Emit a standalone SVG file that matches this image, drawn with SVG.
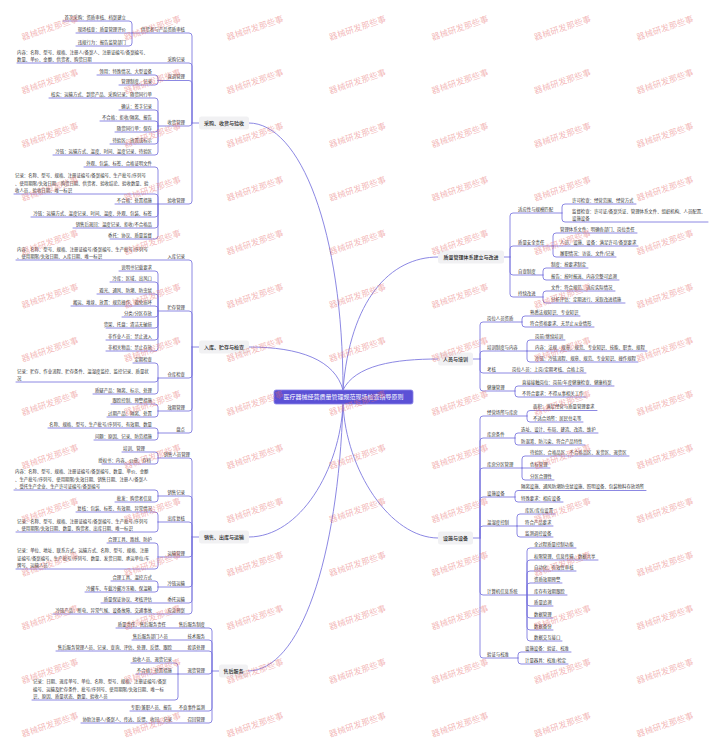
<svg xmlns="http://www.w3.org/2000/svg" xmlns:xlink="http://www.w3.org/1999/xlink" width="720" height="738" viewBox="0 0 720 738">
<style>
.t{font-family:"Noto Sans CJK SC","Noto Sans",sans-serif;font-size:4.4px;fill:#333}
.e{text-anchor:end}
.h{font-family:"Noto Sans CJK SC","Noto Sans",sans-serif;font-size:5px;fill:#222;text-anchor:middle;font-weight:500}
.c{font-family:"Noto Sans CJK SC","Noto Sans",sans-serif;font-size:6px;fill:#fff;text-anchor:middle}
.b{fill:#f1f1f3}
.l{fill:none;stroke:#7f7ae0;stroke-width:.9;stroke-linecap:round}
.w{font-family:"Noto Sans CJK SC","Noto Sans",sans-serif;font-size:8.5px;fill:#e66a6a;fill-opacity:.48;text-anchor:middle}
</style>
<defs>
<text id="wm" class="w" x="0" y="3" transform="rotate(-19)">器械研发那些事</text>
</defs>
<rect width="720" height="738" fill="#fff"/>
<g id="connectors">
<path class="l" d="M343 390C343 230 300 123 249 123M343 390C335 360 300 347 249 347M343 390C350 300 390 257 438 257M343 390C355 365 395 359 438 359M343 404C340 470 300 537 249 537M343 404C338 560 300 671 248 671M343 404C346 470 390 538 438 538"/>
<path class="l" d="M199 123H192M192 123V36Q192 33 189 33H132M192 123V66Q192 63 189 63H17M192 123V83.5Q192 80.5 189 80.5H158M192 123Q192 126 189 126H158M192 123V201Q192 204 189 204H158"/>
<path class="l" d="M132 33V24Q132 21 129 21H63M132 33H76M132 33V43Q132 46 129 46H76"/>
<path class="l" d="M158 80.5V78Q158 75 155 75H97M158 80.5V82Q158 85 155 85H119"/>
<path class="l" d="M158 126V101Q158 98 155 98H49M158 126V113Q158 110 155 110H119M158 126V124Q158 121 155 121H100M158 126V129Q158 132 155 132H115M158 126V141Q158 144 155 144H110M158 126V152Q158 155 155 155H53"/>
<path class="l" d="M158 204V170Q158 167 155 167H84M158 204V197Q158 194 155 194H14M158 204H115M158 204V214Q158 217 155 217H31M158 204V225Q158 228 155 228H73M158 204V236Q158 239 155 239H110"/>
<path class="l" d="M199 347H192M192 347V263Q192 260 189 260H16M192 347V314Q192 311 189 311H158M192 347V375Q192 378 189 378H158M192 347V408Q192 411 189 411H158M192 347V430Q192 433 189 433H158"/>
<path class="l" d="M158 311V274Q158 271 155 271H119M158 311V285Q158 282 155 282H110M158 311V297Q158 294 155 294H97M158 311V309Q158 306 155 306H71M158 311V314Q158 317 155 317H122M158 311V325Q158 328 155 328H106M158 311V337Q158 340 155 340H106M158 311V348Q158 351 155 351H106"/>
<path class="l" d="M158 378V366Q158 363 155 363H133M158 378V379Q158 382 155 382H16M158 378V391Q158 394 155 394H93"/>
<path class="l" d="M158 411V407Q158 404 155 404H111M158 411V414Q158 417 155 417H107M158 433V431Q158 428 155 428H48M158 433V437Q158 440 155 440H94"/>
<path class="l" d="M199 537H192M192 537V461Q192 458 189 458H158M192 537V499Q192 496 189 496H158M192 537V525Q192 522 189 522H158M192 537V554Q192 557 189 557H158M192 537V584Q192 587 189 587H158M192 537V600Q192 603 189 603H101M192 537V611Q192 614 189 614H53"/>
<path class="l" d="M158 458V455Q158 452 155 452H122M158 458V461Q158 464 155 464H102M158 496V493Q158 490 155 490H14M158 496V499Q158 502 155 502H115M158 522V515Q158 512 155 512H76M158 522V529Q158 532 155 532H16M158 557V546Q158 543 155 543H107M158 557V566Q158 569 155 569H16M158 587V584Q158 581 155 581H111M158 587V589Q158 592 155 592H85"/>
<path class="l" d="M219 671H212M212 671V631Q212 628 209 628H116M212 671V643Q212 640 209 640H132M212 671V654Q212 651 209 651H56M212 671Q212 674 209 674H178M212 671V708Q212 711 209 711H130M212 671V720Q212 723 209 723H81"/>
<path class="l" d="M178 674V666Q178 663 175 663H131M178 674H136M178 674V697Q178 700 175 700H32"/>
<path class="l" d="M504 257H510M510 257V216Q510 213 513 213H562M510 257V249Q510 246 513 246H553M510 257V272Q510 275 513 275H543M510 257V294Q510 297 513 297H543"/>
<path class="l" d="M562 213V207Q562 204 565 204H636M562 213V219Q562 222 565 222H708M553 246V236Q553 233 556 233H637M553 246H638M553 246V254Q553 257 556 257H616M543 275V271Q543 268 546 268H588M543 275V277Q543 280 546 280H619M543 297V294Q543 291 546 291H615M543 297V300Q543 303 546 303H625"/>
<path class="l" d="M473 359H480M480 359V325Q480 322 483 322H522M480 359V354Q480 351 483 351H527M480 359V370Q480 373 483 373H586M480 359V388Q480 391 483 391H515"/>
<path class="l" d="M522 322V319Q522 316 525 316H580M522 322V324Q522 327 525 327H594M527 351V343Q527 340 530 340H565M527 351H647M527 351V359Q527 362 530 362H638M515 391V389Q515 386 518 386H614M515 391V394Q515 397 518 397H586"/>
<path class="l" d="M473 538H480M480 538V419Q480 416 483 416H527M480 538V441Q480 438 483 438H515M480 538V471Q480 468 483 468H522M480 538V500Q480 497 483 497H515M480 538V529Q480 526 483 526H517M480 538V592Q480 595 483 595H527M480 538V655Q480 658 483 658H518"/>
<path class="l" d="M527 416V413.5Q527 410.5 530 410.5H597M527 416V419Q527 422 530 422H583M515 438V436Q515 433 518 433H598M515 438V442Q515 445 518 445H585M522 468V459Q522 456 525 456H629M522 468H550M522 468V477Q522 480 525 480H554M515 497V493.5Q515 490.5 518 490.5H646M515 497V499Q515 502 518 502H563M517 526V517Q517 514 520 514H555M517 526H553M517 526V534Q517 537 520 537H553"/>
<path class="l" d="M527 595V551Q527 548 530 548H576M527 595V563Q527 560 530 560H598M527 595V574Q527 571 530 571H576M527 595V586Q527 583 530 583H562M527 595H567M527 595V603Q527 606 530 606H553M527 595V615Q527 618 530 618H553M527 595V627Q527 630 530 630H553M527 595V638Q527 641 530 641H562M518 658V655Q518 652 521 652H571M518 658V661Q518 664 521 664H568"/>
</g>
<g id="root"><rect x="274" y="390" width="139" height="14" rx="2" fill="#5b51d6" stroke="#8a84e8" stroke-width=".8"/><text class="c" x="343.5" y="399.3">医疗器械经营质量管理规范现场检查指导原则</text></g>
<g id="b1"><rect class="b" x="199" y="116.5" width="50" height="13" rx="2.5"/><text class="h" x="224" y="124.8">采购、收货与验收</text></g>
<g id="b2"><rect class="b" x="199" y="340.5" width="50" height="13" rx="2.5"/><text class="h" x="224" y="348.8">入库、贮存与检查</text></g>
<g id="b3"><rect class="b" x="199" y="530.5" width="50" height="13" rx="2.5"/><text class="h" x="224" y="538.8">销售、出库与运输</text></g>
<g id="b4"><rect class="b" x="219" y="664.5" width="29" height="13" rx="2.5"/><text class="h" x="233.5" y="672.8">售后服务</text></g>
<g id="b5"><rect class="b" x="438" y="250.5" width="66" height="13" rx="2.5"/><text class="h" x="471" y="258.8">质量管理体系建立与改进</text></g>
<g id="b6"><rect class="b" x="438" y="352.5" width="35" height="13" rx="2.5"/><text class="h" x="455.5" y="360.8">人员与培训</text></g>
<g id="b7"><rect class="b" x="438" y="531.5" width="35" height="13" rx="2.5"/><text class="h" x="455.5" y="539.8">设施与设备</text></g>
<g id="b1-nodes">
<g id="n1a"><text class="t e" x="185" y="30.8">供货者与产品资质审核</text></g>
<g id="n1a1"><text class="t e" x="126" y="18.8">首次采购：资质审核、档案建立</text></g>
<g id="n1a2"><text class="t e" x="126" y="30.8">现场核查：质量管理评价</text></g>
<g id="n1a3"><text class="t e" x="126" y="43.8">违规行为：报告监管部门</text></g>
<g id="n1b"><text class="t e" x="185" y="60.8">采购记录</text></g>
<g id="n1b1"><text class="t" x="17" y="53.6">内容：名称、型号、规格、注册人/备案人、注册证编号/备案编号、<tspan x="17" dy="7.2">数量、单价、金额、供货者、购货日期</tspan></text></g>
<g id="n1c"><text class="t e" x="185" y="78.3">直调管理</text></g>
<g id="n1c1"><text class="t e" x="152" y="72.8">领用：特殊情况、大型设备</text></g>
<g id="n1c2"><text class="t e" x="152" y="82.8">管理制度、记录</text></g>
<g id="n1d"><text class="t e" x="185" y="123.8">收货管理</text></g>
<g id="n1d1"><text class="t e" x="152" y="95.8">核实：运输方式、到货产品、采购记录、随货同行单</text></g>
<g id="n1d2"><text class="t e" x="152" y="107.8">确认：签字记录</text></g>
<g id="n1d3"><text class="t e" x="152" y="118.8">不合格：拒收/隔离、报告</text></g>
<g id="n1d4"><text class="t e" x="152" y="129.8">随货同行单：保存</text></g>
<g id="n1d5"><text class="t e" x="152" y="141.8">待验区：放置或标示</text></g>
<g id="n1d6"><text class="t e" x="152" y="152.8">冷链：运输方式、温度、时间、温度记录、待验区</text></g>
<g id="n1e"><text class="t e" x="185" y="201.8">验收管理</text></g>
<g id="n1e1"><text class="t e" x="152" y="164.8">外观、包装、标签、合格证明文件</text></g>
<g id="n1e2"><text class="t" x="15" y="177.4">记录：名称、型号、规格、注册证编号/备案编号、生产批号/序列号<tspan x="15" dy="7.2">、使用期限/失效日期、购货日期、供货者、验收结论、验收数量、验</tspan><tspan x="15" dy="7.2">收人员、验收日期、唯一标识</tspan></text></g>
<g id="n1e3"><text class="t e" x="152" y="201.8">不合格：处置措施</text></g>
<g id="n1e4"><text class="t e" x="152" y="214.8">冷链：运输方式、温度记录、时间、温度、外观、包装、标签</text></g>
<g id="n1e5"><text class="t e" x="152" y="225.8">销售后退回：温度记录、拒收/不合格品</text></g>
<g id="n1e6"><text class="t e" x="152" y="236.8">委托：协议、质量监督</text></g>
</g>
<g id="b2-nodes">
<g id="n2a"><text class="t e" x="185" y="257.8">入库记录</text></g>
<g id="n2a1"><text class="t" x="17" y="250.6">内容：名称、型号、规格、注册证编号/备案编号、生产批号/序列号<tspan x="17" dy="7.2">、使用期限/失效日期、入库日期、唯一标识</tspan></text></g>
<g id="n2b"><text class="t e" x="185" y="308.8">贮存管理</text></g>
<g id="n2b1"><text class="t e" x="152" y="268.8">说明书记载要求</text></g>
<g id="n2b2"><text class="t e" x="152" y="279.8">冷库：区域、出风口</text></g>
<g id="n2b3"><text class="t e" x="152" y="291.8">避光、通风、防潮、防虫鼠</text></g>
<g id="n2b4"><text class="t e" x="152" y="303.8">搬运、堆垛、放置：规范操作、避免损坏</text></g>
<g id="n2b5"><text class="t e" x="152" y="314.8">分类/分区存放</text></g>
<g id="n2b6"><text class="t e" x="152" y="325.8">货架、托盘：清洁无破损</text></g>
<g id="n2b7"><text class="t e" x="152" y="337.8">非作业人员：禁止进入</text></g>
<g id="n2b8"><text class="t e" x="152" y="348.8">非相关物品：禁止存放</text></g>
<g id="n2c"><text class="t e" x="185" y="375.8">仓库检查</text></g>
<g id="n2c1"><text class="t e" x="152" y="360.8">定期检查</text></g>
<g id="n2c2"><text class="t" x="17" y="372.6">记录：贮存、作业流程、贮存条件、温湿度监控、监控记录、质量状<tspan x="17" dy="7.2">况</tspan></text></g>
<g id="n2c3"><text class="t e" x="152" y="391.8">质疑产品：隔离、标示、处理</text></g>
<g id="n2d"><text class="t e" x="185" y="408.8">效期管理</text></g>
<g id="n2d1"><text class="t e" x="152" y="401.8">跟踪控制、预警措施</text></g>
<g id="n2d2"><text class="t e" x="152" y="414.8">过期产品：隔离、处置</text></g>
<g id="n2e"><text class="t e" x="185" y="430.8">盘点</text></g>
<g id="n2e1"><text class="t e" x="152" y="425.8">名称、规格、型号、生产批号/序列号、有效期、数量</text></g>
<g id="n2e2"><text class="t e" x="152" y="437.8">问题：原因、记录、防范措施</text></g>
</g>
<g id="b3-nodes">
<g id="n3a"><text class="t e" x="190" y="455.8">销售人员管理</text></g>
<g id="n3a1"><text class="t e" x="145" y="449.8">培训、管理</text></g>
<g id="n3a2"><text class="t e" x="151" y="461.8">授权书：内容、公章、存档</text></g>
<g id="n3b"><text class="t e" x="185" y="493.8">销售记录</text></g>
<g id="n3b1"><text class="t" x="15" y="473.4">内容：名称、型号、规格、注册证编号/备案编号、数量、单价、金额<tspan x="15" dy="7.2">、生产批号/序列号、使用期限/失效日期、销售日期、注册人/备案人</tspan><tspan x="15" dy="7.2">、受托生产企业、生产许可证编号/备案编号</tspan></text></g>
<g id="n3b2"><text class="t e" x="152" y="499.8">批发：购货者信息</text></g>
<g id="n3c"><text class="t e" x="185" y="519.8">出库复核</text></g>
<g id="n3c1"><text class="t e" x="152" y="509.8">复核：包装、标签、有效期、异常情况</text></g>
<g id="n3c2"><text class="t" x="17" y="522.6">记录：名称、型号、规格、注册证编号/备案编号、生产批号/序列号<tspan x="17" dy="7.2">、使用期限/失效日期、数量、购货者、出库日期、唯一标识</tspan></text></g>
<g id="n3d"><text class="t e" x="185" y="554.8">运输管理</text></g>
<g id="n3d1"><text class="t e" x="152" y="540.8">合理工具、路线、防护</text></g>
<g id="n3d2"><text class="t" x="17" y="552.4">记录：单位、地址、联系方式、运输方式、名称、型号、规格、注册<tspan x="17" dy="7.2">证编号/备案编号、生产批号/序列号、数量、发货日期、承运单位/车</tspan><tspan x="17" dy="7.2">牌号、运输人员</tspan></text></g>
<g id="n3e"><text class="t e" x="185" y="584.8">冷链运输</text></g>
<g id="n3e1"><text class="t e" x="152" y="578.8">合理工具、温控方式</text></g>
<g id="n3e2"><text class="t e" x="152" y="589.8">冷藏车、车载冷藏冷冻箱、保温箱</text></g>
<g id="n3f"><text class="t e" x="185" y="600.8">委托运输</text></g>
<g id="n3f1"><text class="t e" x="152" y="600.8">质量保证协议、考核评估</text></g>
<g id="n3g"><text class="t e" x="185" y="611.8">应急预案</text></g>
<g id="n3g1"><text class="t e" x="152" y="611.8">冷链产品：断电、异常气候、设备故障、交通事故</text></g>
</g>
<g id="b4-nodes">
<g id="n4a"><text class="t e" x="205" y="625.8">售后服务制度</text></g>
<g id="n4a1"><text class="t e" x="166" y="625.8">质量责任、售后服务责任</text></g>
<g id="n4b"><text class="t e" x="205" y="637.8">技术服务</text></g>
<g id="n4b1"><text class="t e" x="168" y="637.8">售后服务部门人员</text></g>
<g id="n4c"><text class="t e" x="205" y="648.8">投诉处理</text></g>
<g id="n4c1"><text class="t e" x="172" y="648.8">售后服务管理人员、记录、查询、评估、处理、反馈、跟踪</text></g>
<g id="n4d"><text class="t e" x="205" y="671.8">退货管理</text></g>
<g id="n4d1"><text class="t e" x="172" y="660.8">验收人员、退货记录</text></g>
<g id="n4d2"><text class="t e" x="172" y="671.8">不合格：处置措施</text></g>
<g id="n4d3"><text class="t" x="33" y="683.4">记录：日期、退库单号、单位、名称、型号、规格、注册证编号/备案<tspan x="33" dy="7.2">编号、运输及贮存条件、批号/序列号、使用期限/失效日期、唯一标</tspan><tspan x="33" dy="7.2">识、原因、质量状态、数量、验收人员</tspan></text></g>
<g id="n4e"><text class="t e" x="205" y="708.8">不良事件监测</text></g>
<g id="n4e1"><text class="t e" x="172" y="708.8">专职/兼职人员、报告</text></g>
<g id="n4f"><text class="t e" x="205" y="720.8">召回管理</text></g>
<g id="n4f1"><text class="t e" x="172" y="720.8">协助注册人/备案人、传达、反馈、收回、记录</text></g>
</g>
<g id="b5-nodes">
<g id="n5a"><text class="t" x="518" y="210.8">适应性与规模匹配</text></g>
<g id="n5a1"><text class="t" x="572" y="201.8">许可检查：经营范围、经营方式</text></g>
<g id="n5a2"><text class="t" x="572" y="212.6">监督检查：许可证/备案凭证、管理体系文件、组织机构、人员配置、<tspan x="572" dy="7.2">设施设备</tspan></text></g>
<g id="n5b"><text class="t" x="518" y="243.8">质量安全责任</text></g>
<g id="n5b1"><text class="t" x="560" y="230.8">管理体系文件：明确各部门、岗位责任</text></g>
<g id="n5b2"><text class="t" x="560" y="243.8">人员、设施、设备：满足许可/备案要求</text></g>
<g id="n5b3"><text class="t" x="560" y="254.8">履职情况：访谈、文件/记录</text></g>
<g id="n5c"><text class="t" x="518" y="272.8">自查制度</text></g>
<g id="n5c1"><text class="t" x="551" y="265.8">制度：按要求制定</text></g>
<g id="n5c2"><text class="t" x="551" y="277.8">报告：按时报送、内容完整可追溯</text></g>
<g id="n5d"><text class="t" x="518" y="294.8">持续改进</text></g>
<g id="n5d1"><text class="t" x="551" y="288.8">文件：符合规范、适应实际情况</text></g>
<g id="n5d2"><text class="t" x="551" y="300.8">分析评估：定期进行、采取改进措施</text></g>
</g>
<g id="b6-nodes">
<g id="n6a"><text class="t" x="487" y="319.8">岗位人员资质</text></g>
<g id="n6a1"><text class="t" x="530" y="313.8">熟悉法规知识、专业知识</text></g>
<g id="n6a2"><text class="t" x="530" y="324.8">符合资格要求、无禁止从业情形</text></g>
<g id="n6b"><text class="t" x="487" y="348.8">培训制度与内容</text></g>
<g id="n6b1"><text class="t" x="535" y="337.8">岗前/继续培训</text></g>
<g id="n6b2"><text class="t" x="535" y="348.8">内容：法规、规章、规范、专业知识、技能、职责、规程</text></g>
<g id="n6b3"><text class="t" x="535" y="359.8">冷链：冷链流程、规章、规范、专业知识、操作规程</text></g>
<g id="n6c"><text class="t" x="487" y="370.8">考核</text></g>
<g id="n6c1"><text class="t" x="512" y="370.8">岗位人员：上岗/定期考核、合格上岗</text></g>
<g id="n6d"><text class="t" x="487" y="388.8">健康管理</text></g>
<g id="n6d1"><text class="t" x="522" y="383.8">直接接触岗位：岗前/年度健康检查、健康档案</text></g>
<g id="n6d2"><text class="t" x="522" y="394.8">不符合要求：不得从事相关工作</text></g>
</g>
<g id="b7-nodes">
<g id="n7a"><text class="t" x="487" y="413.8">经营场所与库房</text></g>
<g id="n7a1"><text class="t" x="533" y="408.3">面积：满足经营与质量管理要求</text></g>
<g id="n7a2"><text class="t" x="533" y="419.8">不适合场所：居民住宅等</text></g>
<g id="n7b"><text class="t" x="487" y="435.8">库房条件</text></g>
<g id="n7b1"><text class="t" x="521" y="430.8">选址、设计、布局、建造、改造、维护</text></g>
<g id="n7b2"><text class="t" x="521" y="442.8">防混淆、防污染、符合产品特性</text></g>
<g id="n7c"><text class="t" x="487" y="465.8">库房分区管理</text></g>
<g id="n7c1"><text class="t" x="530" y="453.8">待验区、合格品区、不合格品区、发货区、退货区</text></g>
<g id="n7c2"><text class="t" x="530" y="465.8">色标管理</text></g>
<g id="n7c3"><text class="t" x="530" y="477.8">分区合理性</text></g>
<g id="n7d"><text class="t" x="487" y="494.8">设施设备</text></g>
<g id="n7d1"><text class="t" x="521" y="488.3">隔离设施、通风防潮防虫鼠设施、照明设备、包装物料存放场所</text></g>
<g id="n7d2"><text class="t" x="521" y="499.8">特殊要求：相应设备</text></g>
<g id="n7e"><text class="t" x="487" y="523.8">温湿度控制</text></g>
<g id="n7e1"><text class="t" x="525" y="511.8">库区/库位设置</text></g>
<g id="n7e2"><text class="t" x="525" y="523.8">符合产品要求</text></g>
<g id="n7e3"><text class="t" x="525" y="534.8">监测调控设备</text></g>
<g id="n7f"><text class="t" x="487" y="592.8">计算机信息系统</text></g>
<g id="n7f1"><text class="t" x="534" y="545.8">全过程质量控制功能</text></g>
<g id="n7f2"><text class="t" x="534" y="557.8">权限管理、信息传输、数据共享</text></g>
<g id="n7f3"><text class="t" x="534" y="568.8">自动化、有效性审核</text></g>
<g id="n7f4"><text class="t" x="534" y="580.8">资质效期预警</text></g>
<g id="n7f5"><text class="t" x="534" y="592.8">库存有效期跟踪</text></g>
<g id="n7f6"><text class="t" x="534" y="603.8">质量追溯</text></g>
<g id="n7f7"><text class="t" x="534" y="615.8">数据管理</text></g>
<g id="n7f8"><text class="t" x="534" y="627.8">数据备份</text></g>
<g id="n7f9"><text class="t" x="534" y="638.8">数据交互接口</text></g>
<g id="n7g"><text class="t" x="487" y="655.8">验证与校准</text></g>
<g id="n7g1"><text class="t" x="525" y="649.8">设施设备：验证、校准</text></g>
<g id="n7g2"><text class="t" x="525" y="661.8">计量器具：校准/检定</text></g>
</g>
<g id="watermarks">
<use href="#wm" x="50" y="28"/><use href="#wm" x="152.5" y="28"/><use href="#wm" x="255" y="28"/><use href="#wm" x="357.5" y="28"/><use href="#wm" x="460" y="28"/><use href="#wm" x="562.5" y="28"/><use href="#wm" x="665" y="28"/>
<use href="#wm" x="50" y="81.6"/><use href="#wm" x="152.5" y="81.6"/><use href="#wm" x="255" y="81.6"/><use href="#wm" x="357.5" y="81.6"/><use href="#wm" x="460" y="81.6"/><use href="#wm" x="562.5" y="81.6"/><use href="#wm" x="665" y="81.6"/>
<use href="#wm" x="50" y="135.2"/><use href="#wm" x="152.5" y="135.2"/><use href="#wm" x="255" y="135.2"/><use href="#wm" x="357.5" y="135.2"/><use href="#wm" x="460" y="135.2"/><use href="#wm" x="562.5" y="135.2"/><use href="#wm" x="665" y="135.2"/>
<use href="#wm" x="50" y="188.8"/><use href="#wm" x="152.5" y="188.8"/><use href="#wm" x="255" y="188.8"/><use href="#wm" x="357.5" y="188.8"/><use href="#wm" x="460" y="188.8"/><use href="#wm" x="562.5" y="188.8"/><use href="#wm" x="665" y="188.8"/>
<use href="#wm" x="50" y="242.4"/><use href="#wm" x="152.5" y="242.4"/><use href="#wm" x="255" y="242.4"/><use href="#wm" x="357.5" y="242.4"/><use href="#wm" x="460" y="242.4"/><use href="#wm" x="562.5" y="242.4"/><use href="#wm" x="665" y="242.4"/>
<use href="#wm" x="50" y="296"/><use href="#wm" x="152.5" y="296"/><use href="#wm" x="255" y="296"/><use href="#wm" x="357.5" y="296"/><use href="#wm" x="460" y="296"/><use href="#wm" x="562.5" y="296"/><use href="#wm" x="665" y="296"/>
<use href="#wm" x="50" y="349.6"/><use href="#wm" x="152.5" y="349.6"/><use href="#wm" x="255" y="349.6"/><use href="#wm" x="357.5" y="349.6"/><use href="#wm" x="460" y="349.6"/><use href="#wm" x="562.5" y="349.6"/><use href="#wm" x="665" y="349.6"/>
<use href="#wm" x="50" y="403.2"/><use href="#wm" x="152.5" y="403.2"/><use href="#wm" x="255" y="403.2"/><use href="#wm" x="357.5" y="403.2"/><use href="#wm" x="460" y="403.2"/><use href="#wm" x="562.5" y="403.2"/><use href="#wm" x="665" y="403.2"/>
<use href="#wm" x="50" y="456.8"/><use href="#wm" x="152.5" y="456.8"/><use href="#wm" x="255" y="456.8"/><use href="#wm" x="357.5" y="456.8"/><use href="#wm" x="460" y="456.8"/><use href="#wm" x="562.5" y="456.8"/><use href="#wm" x="665" y="456.8"/>
<use href="#wm" x="50" y="510.4"/><use href="#wm" x="152.5" y="510.4"/><use href="#wm" x="255" y="510.4"/><use href="#wm" x="357.5" y="510.4"/><use href="#wm" x="460" y="510.4"/><use href="#wm" x="562.5" y="510.4"/><use href="#wm" x="665" y="510.4"/>
<use href="#wm" x="50" y="564"/><use href="#wm" x="152.5" y="564"/><use href="#wm" x="255" y="564"/><use href="#wm" x="357.5" y="564"/><use href="#wm" x="460" y="564"/><use href="#wm" x="562.5" y="564"/><use href="#wm" x="665" y="564"/>
<use href="#wm" x="50" y="617.6"/><use href="#wm" x="152.5" y="617.6"/><use href="#wm" x="255" y="617.6"/><use href="#wm" x="357.5" y="617.6"/><use href="#wm" x="460" y="617.6"/><use href="#wm" x="562.5" y="617.6"/><use href="#wm" x="665" y="617.6"/>
<use href="#wm" x="50" y="671.2"/><use href="#wm" x="152.5" y="671.2"/><use href="#wm" x="255" y="671.2"/><use href="#wm" x="357.5" y="671.2"/><use href="#wm" x="460" y="671.2"/><use href="#wm" x="562.5" y="671.2"/><use href="#wm" x="665" y="671.2"/>
<use href="#wm" x="50" y="724.8"/><use href="#wm" x="152.5" y="724.8"/><use href="#wm" x="255" y="724.8"/><use href="#wm" x="357.5" y="724.8"/><use href="#wm" x="460" y="724.8"/><use href="#wm" x="562.5" y="724.8"/><use href="#wm" x="665" y="724.8"/>
</g>
</svg>
